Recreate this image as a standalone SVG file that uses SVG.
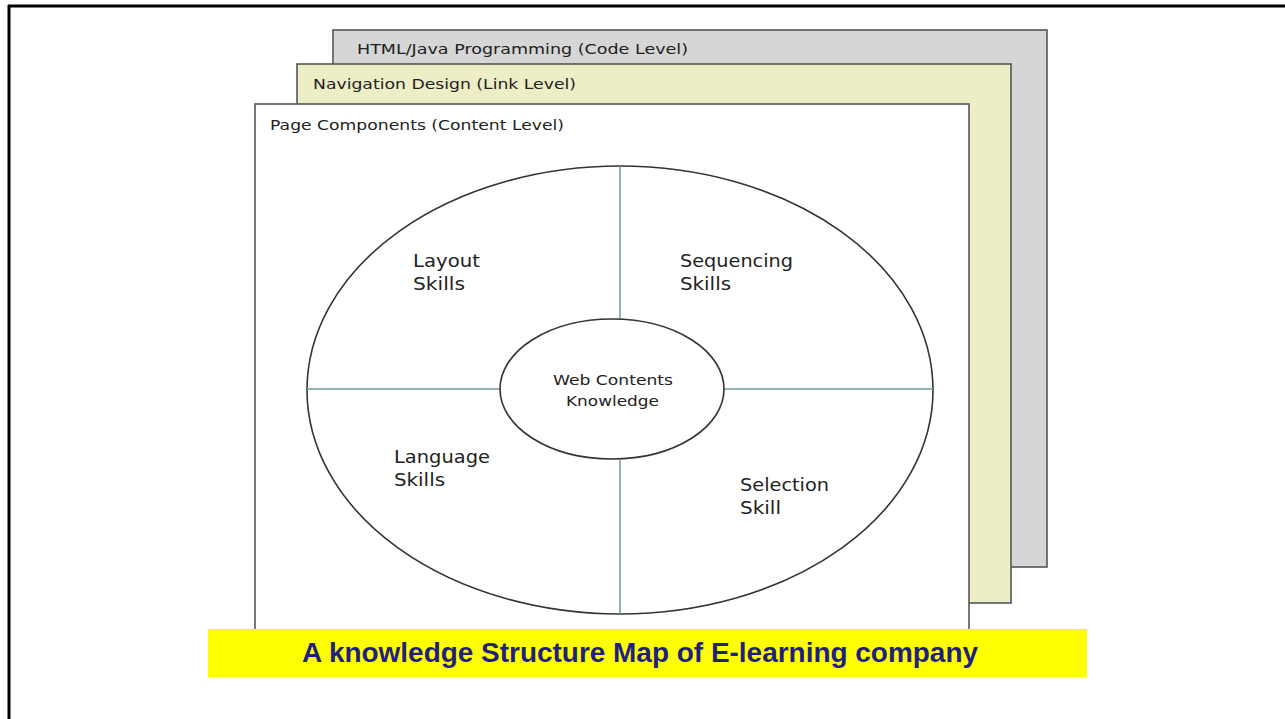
<svg xmlns="http://www.w3.org/2000/svg" width="1285" height="719" viewBox="0 0 1285 719">
<style>
.lbl{font-family:"DejaVu Sans","Verdana",sans-serif;fill:#222;}
.lvl{font-size:14.5px;}
.sk{font-size:18px;}
.ctr{font-size:14px;}
.layer{stroke:#555;stroke-width:1.6;}
.ell{fill:none;stroke:#333;stroke-width:1.6;}
.div{stroke:#6f9a9a;stroke-width:1.5;}
</style>
<rect width="1285" height="719" fill="#fff"/>
<g id="frame">
<line x1="8" y1="6" x2="1285" y2="6" stroke="#000" stroke-width="3"/>
<line x1="9" y1="5" x2="9" y2="719" stroke="#000" stroke-width="3"/>
</g>
<g id="code-level">
<rect class="layer" x="333" y="30" width="714" height="537" fill="#d6d6d6"/>
<text class="lbl lvl" x="357" y="54" textLength="331" lengthAdjust="spacingAndGlyphs">HTML/Java Programming (Code Level)</text>
</g>
<g id="link-level">
<rect class="layer" x="297" y="64" width="714" height="539" fill="#eeeec6"/>
<text class="lbl lvl" x="313" y="89" textLength="263" lengthAdjust="spacingAndGlyphs">Navigation Design (Link Level)</text>
</g>
<g id="content-level">
<rect class="layer" x="255" y="104" width="714" height="540" fill="#fff"/>
<text class="lbl lvl" x="270" y="130" textLength="294" lengthAdjust="spacingAndGlyphs">Page Components (Content Level)</text>
</g>
<g id="connectors">
<ellipse class="ell" cx="620" cy="390" rx="313" ry="224"/>
<line class="div" x1="620" y1="166" x2="620" y2="319"/>
<line class="div" x1="620" y1="460" x2="620" y2="614"/>
<line class="div" x1="307" y1="389" x2="500" y2="389"/>
<line class="div" x1="724" y1="389" x2="933" y2="389"/>
</g>
<g id="layout-skills">
<text class="lbl sk" x="413" y="267" textLength="67" lengthAdjust="spacingAndGlyphs">Layout</text>
<text class="lbl sk" x="413" y="290" textLength="52" lengthAdjust="spacingAndGlyphs">Skills</text>
</g>
<g id="sequencing-skills">
<text class="lbl sk" x="680" y="267" textLength="113" lengthAdjust="spacingAndGlyphs">Sequencing</text>
<text class="lbl sk" x="680" y="290" textLength="51" lengthAdjust="spacingAndGlyphs">Skills</text>
</g>
<g id="language-skills">
<text class="lbl sk" x="394" y="463" textLength="96" lengthAdjust="spacingAndGlyphs">Language</text>
<text class="lbl sk" x="394" y="486" textLength="51" lengthAdjust="spacingAndGlyphs">Skills</text>
</g>
<g id="selection-skill">
<text class="lbl sk" x="740" y="491" textLength="89" lengthAdjust="spacingAndGlyphs">Selection</text>
<text class="lbl sk" x="740" y="514" textLength="41" lengthAdjust="spacingAndGlyphs">Skill</text>
</g>
<g id="web-contents-knowledge">
<ellipse class="ell" cx="612" cy="389" rx="112" ry="70"/>
<text class="lbl ctr" x="553" y="385" textLength="120" lengthAdjust="spacingAndGlyphs">Web Contents</text>
<text class="lbl ctr" x="566" y="406" textLength="93" lengthAdjust="spacingAndGlyphs">Knowledge</text>
</g>
<g id="caption">
<rect x="208" y="629" width="879" height="48" fill="#ffff00"/>
<text x="640" y="662" text-anchor="middle" font-family="Liberation Sans, Arial, sans-serif" font-weight="bold" font-size="28" fill="#1f1f80" textLength="676" lengthAdjust="spacingAndGlyphs">A knowledge Structure Map of E-learning company</text>
</g>
</svg>
